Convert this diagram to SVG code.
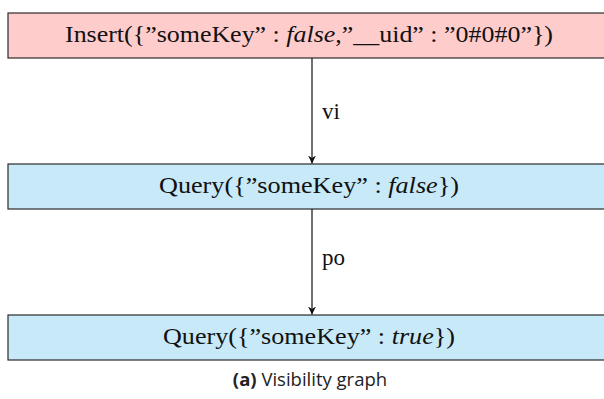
<svg xmlns="http://www.w3.org/2000/svg" width="604" height="399" viewBox="0 0 604 399">
  <style>
    .box { stroke: #2b2b2b; stroke-width: 1.2; }
    .insert { fill: #ffcccc; }
    .query { fill: #c8e9f8; }
    .lbl { font-family: "Liberation Serif", "DejaVu Serif", serif; font-size: 23px; fill: #111; }
    .math { font-style: italic; }
    .edge { stroke: #111; stroke-width: 1.2; fill: none; }
    .cap { font-family: "Open Sans", "Noto Sans", sans-serif; font-size: 18.5px; fill: #222; }
  </style>
  <defs>
    <marker id="arrow" viewBox="0 0 10 10" refX="10" refY="5" markerWidth="8" markerHeight="8" markerUnits="userSpaceOnUse" orient="auto">
      <path d="M0,0 L10,5 L0,10 L3,5 Z" fill="#111"/>
    </marker>
  </defs>

  <g id="node-insert">
    <rect class="box insert" x="8" y="13" width="606" height="45"/>
    <text class="lbl" x="309" y="42" text-anchor="middle" textLength="488" lengthAdjust="spacingAndGlyphs">Insert({”someKey” : <tspan class="math">false</tspan>,”__uid” : ”0#0#0”})</text>
  </g>

  <g id="node-query-false">
    <rect class="box query" x="8" y="164" width="606" height="45"/>
    <text class="lbl" x="309" y="193" text-anchor="middle" textLength="300" lengthAdjust="spacingAndGlyphs">Query({”someKey” : <tspan class="math">false</tspan>})</text>
  </g>

  <g id="node-query-true">
    <rect class="box query" x="8" y="315" width="606" height="45"/>
    <text class="lbl" x="309" y="344" text-anchor="middle" textLength="292" lengthAdjust="spacingAndGlyphs">Query({”someKey” : <tspan class="math">true</tspan>})</text>
  </g>

  <g id="edges">
    <line class="edge" x1="312" y1="58" x2="312" y2="163.5" marker-end="url(#arrow)"/>
    <text class="lbl" x="322" y="119">vi</text>
    <line class="edge" x1="312" y1="209" x2="312" y2="314.5" marker-end="url(#arrow)"/>
    <text class="lbl" x="322" y="265">po</text>
  </g>

  <text class="cap" x="310" y="386" text-anchor="middle"><tspan font-weight="bold">(a)</tspan> Visibility graph</text>
</svg>
